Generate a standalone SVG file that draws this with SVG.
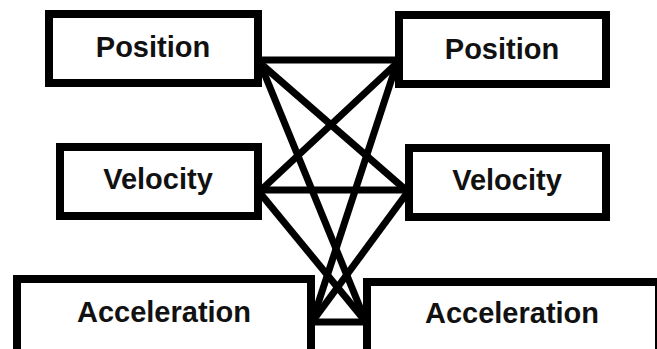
<svg xmlns="http://www.w3.org/2000/svg" width="657" height="349" viewBox="0 0 657 349">
<style>
.box{fill:#fff;stroke:#000;stroke-width:8}
.lbl{font-family:"Liberation Sans",Arial,sans-serif;font-weight:bold;font-size:29px;fill:#111;text-anchor:middle}
.con{stroke:#000;stroke-width:7;fill:none;stroke-linecap:butt}
</style>
<rect width="657" height="349" fill="#fff"/>
<g id="connectors">
<line class="con" x1="258" y1="60" x2="399" y2="60"/>
<line class="con" x1="258" y1="190" x2="409" y2="190"/>
<line class="con" x1="311" y1="322" x2="367" y2="322"/>
<line class="con" x1="260" y1="63" x2="407" y2="191"/>
<line class="con" x1="260" y1="63" x2="366" y2="322"/>
<line class="con" x1="397" y1="63" x2="260" y2="191"/>
<line class="con" x1="397" y1="63" x2="312" y2="322"/>
<line class="con" x1="260" y1="193" x2="366" y2="322"/>
<line class="con" x1="407" y1="193" x2="312" y2="322"/>
</g>
<g id="pos-left"><rect class="box" x="49" y="14" width="209" height="69"/><text class="lbl" x="153" y="57">Position</text></g>
<g id="pos-right"><rect class="box" x="399" y="15" width="207" height="69"/><text class="lbl" x="502" y="59">Position</text></g>
<g id="vel-left"><rect class="box" x="60" y="147" width="198" height="69"/><text class="lbl" x="158" y="189">Velocity</text></g>
<g id="vel-right"><rect class="box" x="409" y="148" width="197" height="69"/><text class="lbl" x="507" y="190">Velocity</text></g>
<g id="acc-left"><rect class="box" x="17" y="279" width="294" height="80"/><text class="lbl" x="164" y="322">Acceleration</text></g>
<g id="acc-right"><rect class="box" x="367" y="282" width="292" height="80"/><text class="lbl" x="512" y="323">Acceleration</text></g>
</svg>
